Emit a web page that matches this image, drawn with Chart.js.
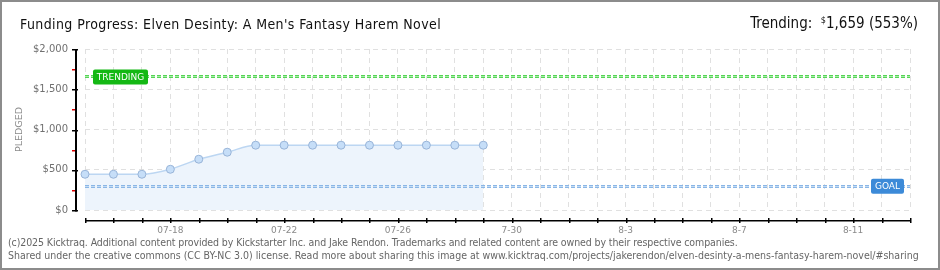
<!DOCTYPE html>
<html>
<head>
<meta charset="utf-8">
<script src="https://cdn.jsdelivr.net/npm/chart.js@4/dist/chart.umd.min.js"></script>
<style>
  html, body { margin: 0; padding: 0; background: #fff; }
  #wrap { position: relative; width: 940px; height: 270px; overflow: hidden; }
  #c { position: absolute; left: 0; top: 0; }
  .frame { position: absolute; left: 0; top: 0; width: 936px; height: 266px; border: 2px solid #8c8c8c; pointer-events: none; }
  .title { position: absolute; left: 20px; top: 16px; font: 14px "DejaVu Sans Condensed", "DejaVu Sans", sans-serif; letter-spacing: 0.4px; line-height: 16px; color: #111; white-space: nowrap; }
  .trend { position: absolute; right: 22px; top: 12px; font: 15px "DejaVu Sans Condensed", "DejaVu Sans", sans-serif; line-height: 17px; color: #111; white-space: nowrap; }
  .trend sup { font-size: 9px; vertical-align: 5px; }
  .foot { position: absolute; left: 8px; font: 10.5px "DejaVu Sans Condensed", "DejaVu Sans", sans-serif; line-height: 13px; color: #666; white-space: nowrap; }
</style>
</head>
<body>
<div id="wrap">
  <canvas id="c" width="940" height="270"></canvas>
  <div class="title">Funding Progress: Elven Desinty: A Men's Fantasy Harem Novel</div>
  <div class="trend">Trending:&nbsp; <sup>$</sup>1,659 (553%)</div>
  <div class="foot" style="top:236px;letter-spacing:-0.1px">(c)2025 Kicktraq. Additional content provided by Kickstarter Inc. and Jake Rendon. Trademarks and related content are owned by their respective companies.</div>
  <div class="foot" style="top:249px">Shared under the creative commons (CC BY-NC 3.0) license. Read more about sharing this image at www.kicktraq.com/projects/jakerendon/elven-desinty-a-mens-fantasy-harem-novel/#sharing</div>
  <div class="frame"></div>
</div>
<script>
const DAYS = ["07-15","07-16","07-17","07-18","07-19","07-20","07-21","07-22","07-23","07-24",
              "07-25","07-26","07-27","07-28","07-29","7-30","7-31","8-1","8-2","8-3",
              "8-4","8-5","8-6","8-7","8-8","8-9","8-10","8-11","8-12","8-13"];
const PLEDGED = [444, 444, 444, 506, 631, 718, 805, 805, 805, 805, 805, 805, 805, 805, 805];
const GOAL = 300;
const TRENDING = 1659;
const Y_MAX = 2000;
const Y_STEP = 500;

// dashed "square" line + label box, like the kicktraq markers
function markerLine(ctx, area, y, outer, inner) {
  ctx.save();
  ctx.setLineDash([4, 2]);
  ctx.lineWidth = 3;
  ctx.strokeStyle = outer;
  ctx.beginPath(); ctx.moveTo(area.left, y); ctx.lineTo(area.right, y); ctx.stroke();
  ctx.lineWidth = 1;
  ctx.strokeStyle = inner;
  ctx.beginPath(); ctx.moveTo(area.left, y); ctx.lineTo(area.right, y); ctx.stroke();
  ctx.restore();
}

function markerBox(ctx, x, y, w, h, fill, text) {
  ctx.save();
  ctx.fillStyle = fill;
  ctx.beginPath();
  ctx.roundRect(x, y, w, h, 2);
  ctx.fill();
  ctx.fillStyle = "#fff";
  ctx.font = "9px 'DejaVu Sans'";
  ctx.textAlign = "center";
  ctx.textBaseline = "middle";
  ctx.fillText(text, x + w / 2, y + h / 2 + 0.5);
  ctx.restore();
}

const decor = {
  id: "decor",
  afterDatasetsDraw(chart) {
    const { ctx, chartArea: a, scales: { y } } = chart;
    markerLine(ctx, a, Math.round(y.getPixelForValue(GOAL)) + 0.5, "#8ab6e6", "#c4dcf4");
    markerLine(ctx, a, Math.round(y.getPixelForValue(TRENDING)) + 0.5, "#56d456", "#a6eea6");
  },
  afterDraw(chart) {
    const { ctx, chartArea: a, scales: { x, y } } = chart;
    ctx.save();
    ctx.setLineDash([]);
    // x axis
    const ay = Math.round(a.bottom) + 10;
    ctx.fillStyle = "#000";
    ctx.fillRect(Math.round(a.left), ay, Math.round(a.right - a.left) + 1, 1.5);
    for (let i = 0; i < DAYS.length; i++) {
      const px = Math.round(x.getPixelForValue(i));
      ctx.fillRect(px, ay - 2, 1.5, 5);
    }
    // y axis
    const ax = Math.round(a.left) - 10;
    for (let v = 0; v <= Y_MAX; v += Y_STEP / 2) {
      const py = Math.round(y.getPixelForValue(v));
      if (v % Y_STEP === 0) {
        ctx.fillStyle = "#000";
        ctx.fillRect(ax - 3, py, 6, 1.5);
      } else {
        ctx.fillStyle = "#e00000";
        ctx.fillRect(ax - 3, py, 3, 1.5);
      }
    }
    ctx.fillStyle = "#000";
    ctx.fillRect(ax, Math.round(a.top), 2, Math.round(a.bottom - a.top) + 1.5);
    ctx.restore();
    markerBox(ctx, a.left + 8, y.getPixelForValue(TRENDING) - 7, 55, 15, "#14b814", "TRENDING");
    markerBox(ctx, a.right - 39, y.getPixelForValue(GOAL) - 7, 33, 15, "#3c8ad8", "GOAL");
  }
};

new Chart(document.getElementById("c"), {
  type: "line",
  data: {
    labels: DAYS,
    datasets: [{
      data: PLEDGED,
      borderColor: "#bcd6f2",
      borderWidth: 1.5,
      backgroundColor: "#edf4fc",
      fill: "origin",
      cubicInterpolationMode: "monotone",
      pointRadius: 4,
      pointBorderWidth: 1,
      pointBackgroundColor: "#c6def8",
      pointBorderColor: "#98b4d8"
    }]
  },
  options: {
    responsive: false,
    animation: false,
    events: [],
    layout: { padding: { left: 0, top: 49, right: 30, bottom: 0 } },
    plugins: { legend: { display: false }, tooltip: { enabled: false } },
    scales: {
      x: {
        offset: false,
        afterFit: s => { s.height = 60; },
        grid: { color: "#e0e0e0", drawTicks: false },
        border: { display: false, dash: [5, 4] },
        ticks: {
          autoSkip: false, maxRotation: 0, padding: 15,
          color: "#8a8a8a", font: { family: "DejaVu Sans", size: 9 },
          callback: (v, i) => (i % 4 === 3 ? DAYS[i] : "")
        }
      },
      y: {
        min: 0, max: Y_MAX,
        afterFit: s => { s.width = 85; },
        grid: { color: "#e0e0e0", drawTicks: false },
        border: { display: false, dash: [5, 4] },
        ticks: {
          stepSize: Y_STEP, padding: 17,
          color: "#707070", font: { family: "DejaVu Sans", size: 10 },
          callback: v => "$" + v.toLocaleString("en-US")
        },
        title: {
          display: true, text: "PLEDGED", color: "#8a8a8a",
          font: { family: "DejaVu Sans", size: 9.5 }, padding: { top: 14, bottom: 0 }
        }
      }
    }
  },
  plugins: [decor]
});
</script>
</body>
</html>
